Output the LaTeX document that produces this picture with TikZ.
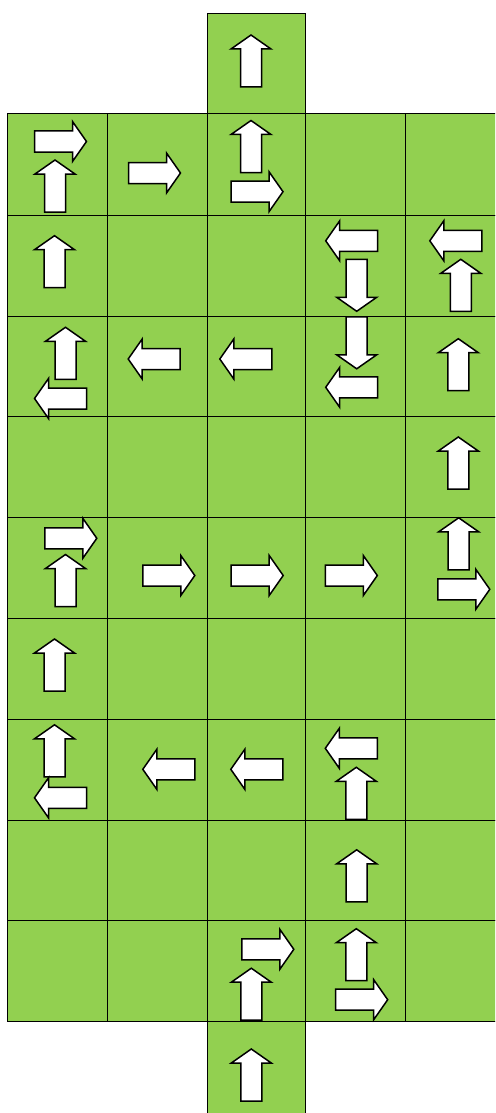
\documentclass[tikz,border=0pt]{standalone}
\definecolor{cellgreen}{HTML}{92D050}
\tikzset{
  cell/.style={fill=cellgreen, draw=black, line width=1pt},
  arrowshape/.style={fill=white, draw=black, line width=1.5pt, line join=miter},
  arrR/.pic={\draw[arrowshape] (-26,-10.5) -- (12,-10.5) -- (12,-20) -- (26,0) -- (12,20) -- (12,10.5) -- (-26,10.5) -- cycle;},
  arrU/.pic={\draw[arrowshape,rotate=90] (-26,-10.5) -- (12,-10.5) -- (12,-20) -- (26,0) -- (12,20) -- (12,10.5) -- (-26,10.5) -- cycle;},
  arrL/.pic={\draw[arrowshape,rotate=180] (-26,-10.5) -- (12,-10.5) -- (12,-20) -- (26,0) -- (12,20) -- (12,10.5) -- (-26,10.5) -- cycle;},
  arrD/.pic={\draw[arrowshape,rotate=270] (-26,-10.5) -- (12,-10.5) -- (12,-20) -- (26,0) -- (12,20) -- (12,10.5) -- (-26,10.5) -- cycle;}
}
\begin{document}
\begin{tikzpicture}[x=1pt,y=1pt]
\useasboundingbox (0,0) rectangle (495,-1113);
\clip (0,0) rectangle (495,-1113);
% top and bottom single cells
\draw[cell] (207,-14) rectangle (305.3,-114);
\draw[cell] (207,-1021.5) rectangle (305.3,-1125);
% main grid
\foreach \ya/\yb in {114/215,215/316,316/416.5,416.5/517,517/618,618/719,719/820,820/920.7,920.7/1021.5}
  \foreach \xa/\xb in {7.5/107.3,107.3/207,207/305.3,305.3/405,405/505}
    \draw[cell] (\xa,-\ya) rectangle (\xb,-\yb);
% arrows
\foreach \p in {
  {(251,-61)}, {(55,-186)}, {(251,-146.5)}, {(54.5,-261.7)}, {(460.8,-285.3)},
  {(65.5,-353.3)}, {(458.3,-364.7)}, {(458.3,-463)}, {(65.5,-580.5)}, {(458.7,-543.8)},
  {(54.5,-665)}, {(54.5,-750.8)}, {(356.3,-793.3)}, {(356.7,-875.8)},
  {(251.3,-994.2)}, {(356.3,-954.7)}, {(251.3,-1075)}}
  \path \p pic {arrU};
\foreach \p in {
  {(60.5,-141.5)}, {(154.5,-173)}, {(257,-191.7)}, {(70.8,-538.3)}, {(168.8,-575.5)},
  {(257.2,-575.5)}, {(351.3,-575.5)}, {(463.8,-589.3)}, {(267.8,-949.3)}, {(361.7,-999.7)}}
  \path \p pic {arrR};
\foreach \p in {
  {(351.7,-240.8)}, {(455.8,-240.8)}, {(60.5,-398.5)}, {(154.2,-359)}, {(245.8,-359)},
  {(351.7,-387.3)}, {(60.5,-797.8)}, {(168.8,-769.3)}, {(256.8,-769.3)}, {(351.3,-748.3)}}
  \path \p pic {arrL};
\foreach \p in {{(356.7,-285.3)}, {(356.7,-342.8)}}
  \path \p pic {arrD};
\end{tikzpicture}
\end{document}
